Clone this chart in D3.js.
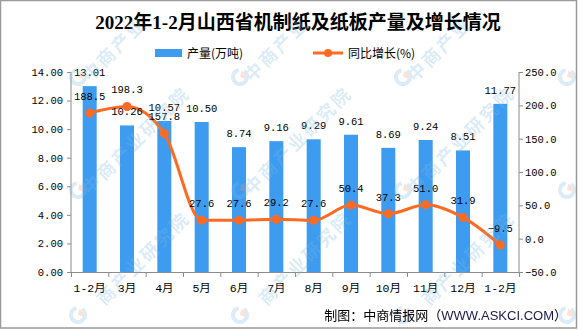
<!DOCTYPE html>
<html><head><meta charset="utf-8">
<script src="https://cdn.jsdelivr.net/npm/d3@7"></script>
<style>
html,body{margin:0;padding:0;background:#fff;}
svg{display:block;}
</style></head>
<body><svg id="c" width="584" height="330"></svg>
<script>
const categories = ["1-2月","3月","4月","5月","6月","7月","8月","9月","10月","11月","12月","1-2月"];
const output = [13.01,10.26,10.57,10.50,8.74,9.16,9.29,9.61,8.69,9.24,8.51,11.77];
const growth = [188.5,198.3,157.8,27.6,27.6,29.2,27.6,50.4,37.3,51.0,31.9,-9.5];
const leftTicks = [0,2,4,6,8,10,12,14];
const rightTicks = [-50,0,50,100,150,200,250];
const title = "2022年1-2月山西省机制纸及纸板产量及增长情况";
const legendNames = ["产量(万吨)","同比增长(%)"];
const sourceCn = "制图：中商情报网（";
const sourceEn = "WWW.ASKCI.COM";
const sourceEnd = "）";
const watermarkText = "中商产业研究院";

const BLUE = "#3d9cf0", ORANGE = "#fd6a21", AXIS = "#8c8c8c";
const MONO = '"Liberation Mono","DejaVu Sans Mono",monospace';
const CJK = '"Noto Sans CJK SC","Noto Sans",sans-serif';

const svg = d3.select("#c");
const L = 71, R = 519, T = 72, B = 272;

const idx = d3.range(categories.length);
const x = d3.scaleBand().domain(idx).range([L, R]).paddingInner(0.625).paddingOuter(0.3125);
const xl = d3.scaleLinear().domain([0, categories.length]).range([L, R]);
const yL = d3.scaleLinear().domain([0, 14]).range([B, T]);
const yR = d3.scaleLinear().domain([-50, 250]).range([B, T]);
const cx = i => x(i) + x.bandwidth() / 2;

// border
svg.append("rect").attr("x", 0.5).attr("y", 0.5).attr("width", 576).attr("height", 327.5)
  .attr("fill", "none").attr("stroke", "#9a9a9a").attr("stroke-width", 1.5);

// title
svg.append("text").attr("x", 298).attr("y", 29).attr("text-anchor", "middle")
  .attr("font-family", '"Liberation Serif","Noto Sans CJK SC",serif').attr("font-weight", "bold")
  .attr("font-size", 19).attr("fill", "#000").text(title);

// legend
svg.append("rect").attr("x", 155).attr("y", 49).attr("width", 27).attr("height", 8).attr("fill", BLUE);
svg.append("text").attr("x", 187).attr("y", 57.5).attr("font-family", CJK).attr("font-size", 12).text(legendNames[0]);
svg.append("line").attr("x1", 313).attr("x2", 343).attr("y1", 53).attr("y2", 53).attr("stroke", ORANGE).attr("stroke-width", 3);
svg.append("circle").attr("cx", 328).attr("cy", 53).attr("r", 4).attr("fill", ORANGE);
svg.append("text").attr("x", 348).attr("y", 57.5).attr("font-family", CJK).attr("font-size", 12).text(legendNames[1]);

// bars
svg.append("g").selectAll("rect").data(output).join("rect")
  .attr("x", (d, i) => x(i)).attr("width", x.bandwidth())
  .attr("y", d => yL(d)).attr("height", d => B - yL(d)).attr("fill", BLUE);

// axes
const gl = svg.append("g").attr("transform", `translate(${L},0)`)
  .call(d3.axisLeft(yL).tickValues(leftTicks).tickFormat(d3.format(".2f")).tickSize(4).tickPadding(4));
const gr = svg.append("g").attr("transform", `translate(${R},0)`)
  .call(d3.axisRight(yR).tickValues(rightTicks).tickFormat(d3.format(".1f")).tickSize(4).tickPadding(2));
const gb = svg.append("g").attr("transform", `translate(0,${B})`)
  .call(d3.axisBottom(xl).tickValues(d3.range(categories.length + 1)).tickFormat("").tickSize(5).tickSizeOuter(0));
const gbl = svg.append("g").attr("transform", `translate(0,${B})`)
  .call(d3.axisBottom(x).tickFormat(i => categories[i]).tickSize(0).tickPadding(11.5));
gbl.select(".domain").remove();
[gl, gr].forEach(g => { g.select(".domain").attr("d", `M0,${B}V${T}`); });
[gl, gr, gb].forEach(g => {
  g.selectAll(".domain,.tick line").attr("stroke", AXIS);
});
[gl, gr].forEach(g => g.selectAll("text").attr("font-family", MONO).attr("font-size", 10.5).attr("fill", "#000"));
gbl.selectAll("text").attr("font-family", '"Liberation Mono","Noto Sans CJK SC",monospace').attr("font-size", 11.5).attr("fill", "#000");

// line
const line = d3.line().x((d, i) => cx(i)).y(d => yR(d)).curve(d3.curveMonotoneX);
svg.append("path").datum(growth).attr("d", line).attr("fill", "none")
  .attr("stroke", ORANGE).attr("stroke-width", 3);
svg.append("g").selectAll("circle").data(growth).join("circle")
  .attr("cx", (d, i) => cx(i)).attr("cy", d => yR(d)).attr("r", 4.5).attr("fill", ORANGE);

// bar labels
svg.append("g").selectAll("text").data(output).join("text")
  .attr("x", (d, i) => cx(i)).attr("y", d => yL(d) - 10).attr("text-anchor", "middle")
  .attr("font-family", MONO).attr("font-size", 10.5).attr("fill", "#000").text(d => d3.format(".2f")(d));
// line labels
svg.append("g").selectAll("text").data(growth).join("text")
  .attr("x", (d, i) => cx(i)).attr("y", d => yR(d) - 13).attr("text-anchor", "middle")
  .attr("font-family", MONO).attr("font-size", 10.5).attr("fill", "#000").text(d => d3.format(".1f")(d));

// watermarks (only the characters that fall well inside the frame)
const wm = svg.append("g").attr("opacity", 0.28).attr("pointer-events", "none");
const wxs = [-86, 78, 240, 403, 567], wys = [77, 190, 315];
const adv = 20.5, c45 = Math.SQRT1_2;
wxs.forEach(wx => wys.forEach(wy => {
  if (wx > 0 && wx < 576 && wy < 318) {
    const g = wm.append("g").attr("transform", `translate(${wx},${wy})`);
    g.append("path").attr("d", d3.arc().innerRadius(5).outerRadius(9).startAngle(0.6).endAngle(2 * Math.PI - 0.2)())
      .attr("fill", "#7fb8e3");
    g.append("path").attr("d", d3.arc().innerRadius(0).outerRadius(6).startAngle(0.2).endAngle(1.9)())
      .attr("fill", "#f59a76");
  }
  const sx = wx + 12, sy = wy + 6;
  const vis = d3.range(watermarkText.length).filter(k => {
    const u = k * adv + 9;
    const px = sx + c45 * (u - 6), py = sy + c45 * (-u - 6);
    return px >= 26 && px <= 550 && py >= 26 && py <= 302;
  });
  if (!vis.length) return;
  const k0 = d3.min(vis), k1 = d3.max(vis);
  wm.append("text").attr("transform", `translate(${sx},${sy}) rotate(-45)`).attr("x", k0 * adv)
    .attr("font-family", CJK).attr("font-weight", "bold").attr("font-size", 18).attr("letter-spacing", 2.5)
    .attr("fill", "#7fb8e3").text(watermarkText.slice(k0, k1 + 1));
}));

// source
const src = svg.append("text").attr("x", 567).attr("y", 320).attr("text-anchor", "end")
  .attr("font-family", CJK).attr("font-size", 13).attr("fill", "#000");
src.append("tspan").text(sourceCn);
src.append("tspan").attr("font-family", '"Liberation Sans",Arial,sans-serif').attr("fill", "#1a1a4a").text(sourceEn);
src.append("tspan").text(sourceEnd);
</script></body></html>
